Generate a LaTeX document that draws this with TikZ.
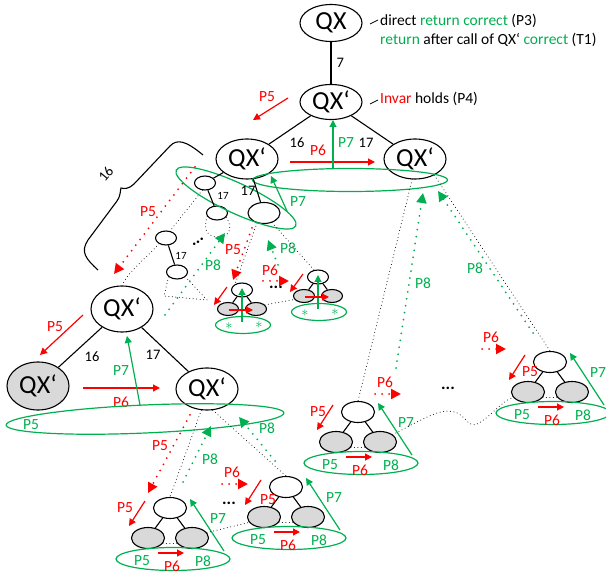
\documentclass[tikz,border=0pt]{standalone}
\usepackage{fontspec}
\setmainfont{Carlito}
\usepackage{tikz}
\usetikzlibrary{arrows.meta,shapes.geometric,positioning}

\definecolor{pgreen}{RGB}{0,176,80}
\definecolor{pred}{RGB}{255,0,0}
\definecolor{pgrey}{RGB}{217,217,217}

\tikzset{
  qx/.style={ellipse,draw,line width=1.1pt,minimum width=62pt,minimum height=40pt,
    inner sep=0pt,font=\fontsize{26}{28}\selectfont},
  sm/.style={ellipse,draw,line width=1.1pt,inner sep=0pt,minimum width=21pt,minimum height=14pt},
  md/.style={ellipse,draw,line width=1.1pt,inner sep=0pt,minimum width=33pt,minimum height=21pt},
  leaf/.style={fill=pgrey},
  grp/.style={ellipse,draw=pgreen,line width=1.2pt,inner sep=0pt},
  lbl/.style={inner sep=0pt,font=\fontsize{15.5}{17}\selectfont},
  rlbl/.style={lbl,text=pred},
  glbl/.style={lbl,text=pgreen},
  num/.style={inner sep=0pt,font=\fontsize{14.5}{16}\selectfont},
  smallnum/.style={inner sep=0pt,font=\fontsize{11}{13}\selectfont},
  tedge/.style={line width=1.1pt},
  rarr/.style={pred,line width=1.2pt,-{Triangle[length=7pt,width=7pt]}},
  garr/.style={pgreen,line width=1.2pt,-{Triangle[length=7pt,width=7pt]}},
  rdots/.style={pred,line width=2pt,line cap=round,dash pattern=on 0pt off 7pt,
    -{Triangle[length=10pt,width=10pt]}},
  gdots/.style={pgreen,line width=2pt,line cap=round,dash pattern=on 0pt off 7pt,
    -{Triangle[length=10pt,width=10pt]}},
  subtree/.style={line width=1pt,line cap=round,dash pattern=on 0pt off 3.5pt},
  ellip/.style={inner sep=0pt,font=\fontsize{17}{18}\selectfont\bfseries},
  star/.style={inner sep=0pt,text=pgreen,font=\fontsize{14}{16}\selectfont}
}

\begin{document}
\begin{tikzpicture}[x=1pt,y=-1pt]
\useasboundingbox (0,0) rectangle (606,577);

% main tree
\node[qx,minimum height=37pt] (qx) at (331,23) {QX};
\node[qx,minimum height=35pt] (root) at (331,102) {QX‘};
\node[qx] (lft) at (247,159) {QX‘};
\node[qx] (rgt) at (415,159) {QX‘};
\node[qx,minimum height=46pt] (L) at (122,309) {QX‘};
\node[qx,leaf,minimum height=48pt] (LL) at (38,386) {QX‘};
\node[qx,minimum height=42pt] (LR) at (207,389) {QX‘};

\draw[tedge] (qx) -- node[num,right=5pt] {7} (root);
\draw[tedge] (root) -- (lft);
\draw[tedge] (root) -- (rgt);
\node[num] at (297,143) {16};
\node[num] at (366,143) {17};

% notes
\draw[line width=0.8pt] (370,24) -- (378,20);
\node[anchor=west,align=left,inner sep=0pt,font=\fontsize{15.5}{19}\selectfont] (note) at (380,30)
  {direct \textcolor{pgreen}{return correct} (P3)\\\textcolor{pgreen}{return} after call of QX‘ \textcolor{pgreen}{correct} (T1)};
\draw[line width=0.8pt] (370,104) -- (378,100);
\node[anchor=west,inner sep=0pt,font=\fontsize{15.5}{19}\selectfont] (inv) at (380,99)
  {\textcolor{pred}{Invar} holds (P4)};

% steps at the root
\draw[rarr] (288,98) -- (253,120);
\node[rlbl] at (267,97) {P5};
\draw[rarr] (290,162) -- (375,162);
\node[rlbl] at (318,150) {P6};
\node[grp,minimum width=195pt,minimum height=23pt] (g1) at (350,180) {};
\draw[garr] (333,169) -- (333,120);
\node[glbl] at (346,143) {P7};

% left subtree
\node[sm] (a) at (205,183) {};
\node[sm] (b) at (217,213) {};
\node[sm,minimum width=32pt,minimum height=21pt] (c) at (264,213) {};
\node[sm] (d) at (166,238) {};
\node[sm] (e) at (177,272) {};
\node[grp,minimum width=132pt,minimum height=30pt,rotate=-25] (g2) at (236,198) {};
\draw[tedge] (lft) -- (a);
\draw[tedge] (lft) -- (c);
\draw[tedge] (a) -- (b);
\draw[tedge] (d) -- (e);
\node[smallnum] at (223,196) {17};
\node[smallnum] at (181,256) {17};
\node[num] at (248,191) {17};
\draw[subtree] (b.200) .. controls (202,232) and (210,238) .. (220,237)
  .. controls (231,236) and (232,226) .. (b.-25);
\draw[subtree] (a.-110) -- (d.60);
\draw[subtree] (d.220) .. controls (142,262) and (128,272) .. (L.north);
\draw[subtree] (e.210) -- (164,296) -- (207,300) -- (e.-30);
\node[ellip,rotate=35] at (198,242) {...};

% brace over the 16-branch
\draw[tedge] (98,270) .. controls (86,259) and (80,252) .. (88,240) -- (117,201)
  .. controls (121,195) and (120,191) .. (121,188) .. controls (124,189) and (129,189) .. (134,184)
  -- (170,146) .. controls (177,139) and (185,140) .. (203,155);
\node[num,rotate=50] at (106,174) {16};

\draw[rdots] (195,167) -- (114,274);
\node[rlbl] at (148,212) {P5};
\draw[rdots] (252,228) -- (233,280);
\node[rlbl] at (233,250) {P5};
\draw[gdots] (165,315) -- (225,233);
\node[glbl] at (213,265) {P8};
\draw[gdots] (278,265) -- (268,240);
\node[glbl] at (288,248) {P8};
\draw[garr] (287,211) -- (271,176);
\node[glbl] at (298,202) {P7};

% small trees with stars
\foreach \n/\x/\y in {s/242/290, t/318/277}{
  \node[sm] (\n) at (\x,\y) {};
  \node[sm,leaf,minimum height=13pt] (\n-l) at (\x-14,\y+19) {};
  \node[sm,leaf,minimum height=13pt] (\n-r) at (\x+14,\y+19) {};
  \draw[tedge] (\n) -- (\n-l);
  \draw[tedge] (\n) -- (\n-r);
  \node[grp,minimum width=55pt,minimum height=17pt] (\n-g) at (\x+1,\y+35) {};
  \node[star] at (\x-13,\y+36) {$\ast$};
  \node[star] at (\x+17,\y+35) {$\ast$};
  \draw[garr] (\x,\y+32) -- (\x,\y-2);
  \draw[rarr] (\x-13,\y+20) -- (\x+11,\y+20);
  \draw[rarr] (\x-15,\y-3) -- (\x-28,\y+15);
}
\draw[subtree] (c.235) -- (s.140);
\draw[subtree] (c.-50) -- (t.120);
\draw[subtree] (s-r.25) -- (t-l.200);
\draw[rdots] (263,281) -- (289,281);
\node[rlbl] at (270,270) {P6};
\node[ellip] at (276,287) {...};

% lower left tree
\draw[tedge] (L) -- (LL);
\draw[tedge] (L) -- (LR);
\node[num] at (92,357) {16};
\node[num] at (153,355) {17};
\draw[rarr] (83,315) -- (40,355);
\node[rlbl] at (55,327) {P5};
\draw[rarr] (83,388) -- (160,388);
\node[rlbl] at (121,402) {P6};
\node[grp,minimum width=278pt,minimum height=28pt,rotate=2.5] (g3) at (145,419) {};
\draw[garr] (140,405) -- (127,336);
\node[glbl] at (121,371) {P7};
\node[glbl] at (31,425) {P5};

% small trees at the bottom
\foreach \t/\x/\y/\px/\py in {u/170/508/-45/0, v/286/487/-18/13, w/358/412/-40/0, z/550/362/-20/10}{
  \node[md] (\t) at (\x,\y) {};
  \node[md,leaf] (\t-l) at (\x-22,\y+30) {};
  \node[md,leaf] (\t-r) at (\x+22,\y+30) {};
  \draw[tedge] (\t) -- (\t-l);
  \draw[tedge] (\t) -- (\t-r);
  \draw[subtree] (\t-l.-20) -- (\t-r.200);
  \node[grp,minimum width=114pt,minimum height=23pt] (\t-g) at (\x+3,\y+51) {};
  \node[glbl] at (\x-28,\y+53) {P5};
  \node[rlbl] at (\x+2,\y+58) {P6};
  \node[glbl] at (\x+33,\y+53) {P8};
  \draw[rarr] (\x-12,\y+45) -- (\x+14,\y+45);
  \draw[garr] (\x+54,\y+43) -- (\x+20,\y-9);
  \node[glbl] at (\x+48,\y+11) {P7};
  \draw[rarr] (\x-25,\y-7) -- (\x-41,\y+18);
  \node[rlbl] at (\x+\px,\y+\py) {P5};
}

% under the lower 17-child
\draw[subtree] (LR.255) -- (u.north);
\draw[subtree] (LR.-75) -- (v.north);
\draw[subtree] (u-r.20) -- (v-l.200);
\draw[rdots] (190,415) -- (148,493);
\node[rlbl] at (160,446) {P5};
\draw[gdots] (183,482) -- (211,426);
\node[glbl] at (210,459) {P8};
\draw[gdots] (275,461) -- (239,417);
\node[glbl] at (267,428) {P8};
\draw[rdots] (222,484) -- (248,484);
\node[rlbl] at (232,472) {P6};
\node[ellip] at (229,503) {...};

% right subtree
\draw[subtree] (rgt.262) -- (w.north);
\draw[subtree] (rgt.-40) -- (z.north);
\draw[subtree] (w-r.30) .. controls (425,418) and (440,408) .. (455,412)
  .. controls (465,415) and (468,428) .. (477,424) .. controls (490,418) and (500,402) .. (z-l.200);
\draw[gdots] (396,368) -- (423,193);
\node[glbl] at (423,283) {P8};
\draw[gdots] (533,333) -- (438,191);
\node[glbl] at (475,268) {P8};
\draw[rdots] (375,394) -- (401,394);
\node[rlbl] at (385,382) {P6};
\draw[rdots] (482,349) -- (506,349);
\node[rlbl] at (491,337) {P6};
\node[ellip] at (448,388) {...};

\end{tikzpicture}
\end{document}
